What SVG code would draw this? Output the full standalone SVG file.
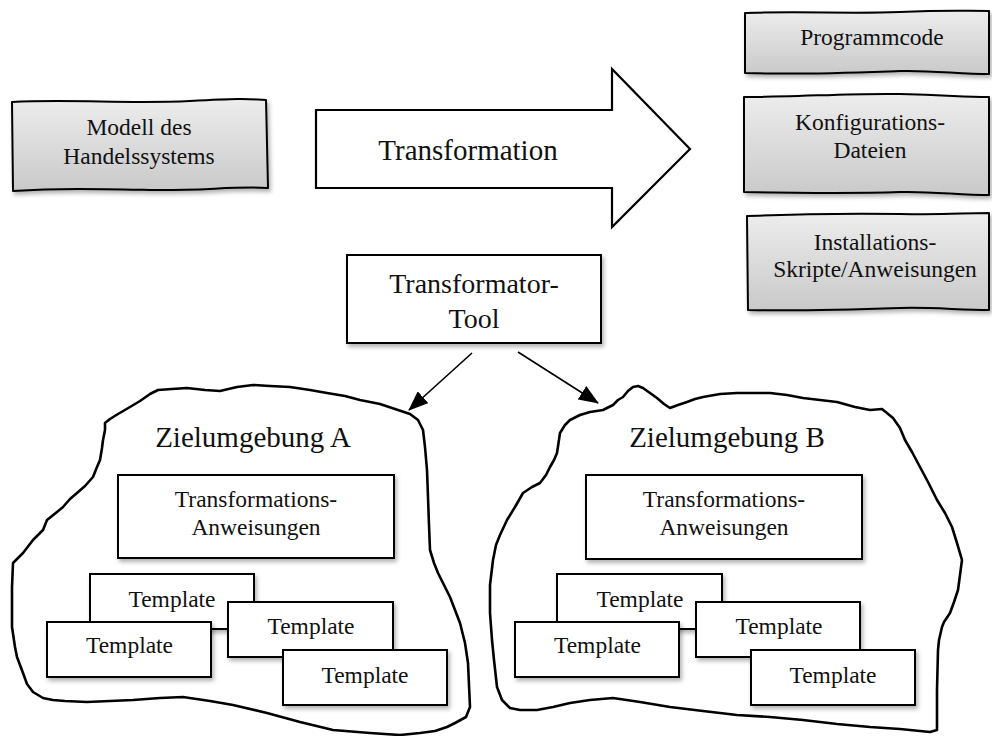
<svg xmlns="http://www.w3.org/2000/svg" width="992" height="736" viewBox="0 0 992 736">
  <defs>
    <linearGradient id="grayFill" x1="0" y1="0" x2="0" y2="1">
      <stop offset="0" stop-color="#ededed"/>
      <stop offset="1" stop-color="#c9c9c9"/>
    </linearGradient>
    <filter id="shadow" x="-10%" y="-10%" width="125%" height="135%">
      <feDropShadow dx="2" dy="3" stdDeviation="2.2" flood-color="#000" flood-opacity="0.3"/>
    </filter>
    <marker id="head" markerUnits="userSpaceOnUse" markerWidth="20" markerHeight="16" viewBox="0 0 20 16" refX="19" refY="8" orient="auto">
      <path d="M0,0 L20,8 L0,16 Z" fill="#000"/>
    </marker>
    <style>
      text { font-family: "Liberation Serif", "Times New Roman", serif; fill: #111; text-anchor: middle; }
      .s { font-size: 23.5px; }
      .l { font-size: 29px; }
      .m { font-size: 28px; }
      .gray { fill: url(#grayFill); stroke: #000; stroke-width: 2; stroke-linejoin: round; filter: url(#shadow); }
      .box { fill: #fff; stroke: #000; stroke-width: 2; filter: url(#shadow); }
      .cloud { fill: none; stroke: #000; stroke-width: 2.6; stroke-linejoin: round; stroke-linecap: round; }
      .edge { fill: none; stroke: #000; stroke-width: 1.6; marker-end: url(#head); }
    </style>
  </defs>

  <rect width="992" height="736" fill="#fff"/>

  <!-- source model -->
  <g id="modell">
    <path class="gray" d="M12,102 C70,99 130,104 190,101 S245,99 266,100 L268,188 C235,186 200,191 150,190 S60,188 13,191 Z"/>
    <text class="s" x="139" y="135">Modell des</text>
    <text class="s" x="139" y="164">Handelssystems</text>
  </g>

  <!-- big block arrow -->
  <g id="transformation">
    <path d="M316,110 L612,110 L612,69 L690,149 L612,227 L612,188 L316,188 Z" fill="#fff" stroke="#000" stroke-width="2.2" stroke-linejoin="miter"/>
    <text class="l" x="468" y="160">Transformation</text>
  </g>

  <!-- generated artefacts -->
  <g id="programmcode">
    <path class="gray" d="M745,13 C800,11 850,14 900,12 S960,11 989,11 L989,74 C960,74 930,70 900,71 S800,75 745,73 Z"/>
    <text class="s" x="872" y="45">Programmcode</text>
  </g>
  <g id="konfiguration">
    <path class="gray" d="M744,97 C800,97 850,93 900,94 S960,97 989,97 L989,195 C960,195 930,191 900,192 S800,193 744,192 Z"/>
    <text class="s" x="870" y="130">Konfigurations-</text>
    <text class="s" x="870" y="158">Dateien</text>
  </g>
  <g id="installation">
    <path class="gray" d="M747,216 C800,214 850,213 900,214 S960,213 989,213 L989,310 C960,310 930,307 900,308 S800,311 748,310 Z"/>
    <text class="s" x="875" y="250">Installations-</text>
    <text class="s" x="875" y="277">Skripte/Anweisungen</text>
  </g>

  <!-- transformer tool -->
  <g id="tool">
    <rect class="box" x="347" y="255" width="254" height="88"/>
    <text class="m" x="474" y="293">Transformator-</text>
    <text class="m" x="474" y="328">Tool</text>
  </g>

  <!-- target environment A -->
  <g id="zielumgebung-a">
    <path class="cloud" d="M105,423 L110,419 L118,414 L130,407 L140,401 L150,394 L158,390 L172,389 L187,388 L205,390 L220,391 L237,387 L253,385 L270,386 L290,387 L310,390 L327,393 L345,396 L360,400 L380,404 L395,409 L410,414 L418,420 L423,430 L425,447 L427,470 L428,497 L429,525 L430,550 L434,563 L438,573 L444,585 L450,597 L455,610 L460,623 L465,643 L468,663 L469,685 L470,707 L466,717 L455,723 L447,727 L435,731 L420,733 L400,735 L370,733 L333,730 L300,722 L267,713 L233,705 L210,701 L183,697 L160,698 L133,700 L110,701 L87,702 L65,701 L53,700 L43,698 L33,692 L27,684 L23,673 L17,657 L15,647 L12,627 L12,607 L12,587 L13,563 L23,553 L33,540 L43,530 L47,520 L57,512 L63,507 L70,499 L77,493 L85,486 L93,477 L97,467 L100,460 L102,448 L103,440 L105,430 Z"/>
    <text class="l" x="253" y="447">Zielumgebung A</text>
    <rect class="box" x="118" y="475" width="276" height="83"/>
    <text class="s" x="256" y="507">Transformations-</text>
    <text class="s" x="256" y="535">Anweisungen</text>
    <rect class="box" x="90" y="574" width="164" height="55"/>
    <text class="s" x="172" y="607">Template</text>
    <rect class="box" x="47" y="622" width="164" height="55"/>
    <text class="s" x="129.5" y="653">Template</text>
    <rect class="box" x="228" y="602" width="165" height="55"/>
    <text class="s" x="311" y="634">Template</text>
    <rect class="box" x="283" y="650" width="164" height="55"/>
    <text class="s" x="365" y="683">Template</text>
  </g>

  <!-- target environment B -->
  <g id="zielumgebung-b">
    <path class="cloud" d="M557,453 L560,433 L565,425 L570,420 L580,415 L590,412 L603,410 L613,405 L618,400 L623,397 L628,391 L633,387 L638,386 L643,388 L650,393 L657,398 L664,404 L670,408 L678,405 L687,402 L695,399 L703,397 L720,394 L737,393 L755,393 L770,393 L787,395 L803,398 L820,400 L837,402 L855,407 L870,410 L882,409 L893,418 L900,428 L905,440 L912,452 L920,467 L928,482 L937,500 L945,513 L952,527 L957,543 L962,560 L960,575 L958,590 L954,602 L950,613 L944,622 L942,627 L939,640 L938,650 L937,690 L937,730 L930,732 L920,731 L900,729 L870,727 L837,724 L803,720 L770,717 L737,715 L703,711 L670,707 L640,702 L613,698 L590,700 L570,703 L553,707 L537,710 L520,710 L510,708 L502,700 L497,687 L494,660 L492,640 L490,613 L490,585 L493,560 L496,545 L500,535 L507,520 L515,507 L523,493 L532,487 L540,483 L546,475 L550,467 L554,460 Z"/>
    <text class="l" x="727" y="447">Zielumgebung B</text>
    <rect class="box" x="586" y="475" width="276" height="84"/>
    <text class="s" x="724" y="507">Transformations-</text>
    <text class="s" x="724" y="535">Anweisungen</text>
    <rect class="box" x="557" y="574" width="165" height="55"/>
    <text class="s" x="640" y="607">Template</text>
    <rect class="box" x="515" y="622" width="164" height="55"/>
    <text class="s" x="597.5" y="653">Template</text>
    <rect class="box" x="696" y="602" width="164" height="55"/>
    <text class="s" x="779" y="634">Template</text>
    <rect class="box" x="751" y="650" width="164" height="55"/>
    <text class="s" x="833" y="683">Template</text>
  </g>

  <!-- connectors -->
  <g id="connectors">
    <line class="edge" x1="472" y1="353" x2="409" y2="410"/>
    <line class="edge" x1="518" y1="352" x2="598" y2="403"/>
  </g>
</svg>
